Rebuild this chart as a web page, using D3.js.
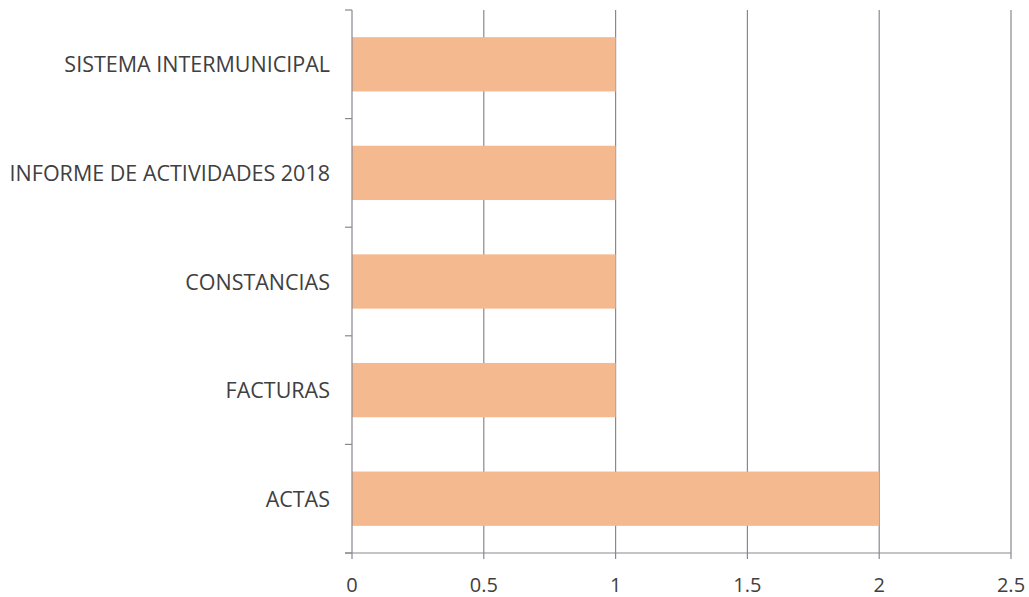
<!DOCTYPE html>
<html><head><meta charset="utf-8">
<script src="https://cdn.jsdelivr.net/npm/d3@7"></script>
<style>body{margin:0;background:#fff}</style>
</head><body>
<svg id="c" width="1029" height="597"></svg>
<script>
const categories = ["SISTEMA INTERMUNICIPAL","INFORME DE ACTIVIDADES 2018","CONSTANCIAS","FACTURAS","ACTAS"];
const values = [1,1,1,1,2];
const xTicks = [0,0.5,1,1.5,2,2.5];

(function(){
const svg = d3.select("#c");
const pL = 352, pR = 1011, pT = 10, pB = 553;
const x = d3.scaleLinear().domain([0,2.5]).range([pL,pR]);
const y = d3.scaleBand().domain(categories).range([pT,pB]).paddingInner(0.5).paddingOuter(0.25);
const font = "'Open Sans', sans-serif";

svg.append("g").selectAll("line").data(xTicks.slice(1)).join("line")
  .attr("x1",d=>x(d)).attr("x2",d=>x(d)).attr("y1",pT).attr("y2",pB+6)
  .attr("stroke","#8a8790").attr("stroke-width",1.2);
svg.append("g").selectAll("rect").data(categories).join("rect")
  .attr("x",x(0)).attr("y",d=>y(d)).attr("width",(d,i)=>x(values[i])-x(0)).attr("height",y.bandwidth())
  .attr("fill","#f4b98f");
const step = (pB-pT)/categories.length;
const yt = d3.range(categories.length+1).map(i=>pT+i*step);
svg.append("line").attr("x1",pL).attr("x2",pL).attr("y1",pT).attr("y2",pB+6).attr("stroke","#8a8790").attr("stroke-width",1.2);
svg.append("g").selectAll("line").data(yt).join("line")
  .attr("x1",pL-7).attr("x2",pL).attr("y1",d=>d).attr("y2",d=>d).attr("stroke","#8a8790").attr("stroke-width",1.2);
svg.append("line").attr("x1",pL-7).attr("x2",pR).attr("y1",pB).attr("y2",pB).attr("stroke","#8a8790").attr("stroke-width",1.2);
svg.append("g").selectAll("text").data(xTicks).join("text")
  .attr("x",d=>x(d)).attr("y",592).attr("text-anchor","middle")
  .attr("font-family",font).attr("font-size",20).attr("fill","#404040").text(d=>d);
svg.append("g").selectAll("text").data(categories).join("text")
  .attr("x",330).attr("y",d=>y(d)+y.bandwidth()/2+8).attr("text-anchor","end")
  .attr("font-family",font).attr("font-size",21.5).attr("fill","#404040").text(d=>d);
})();
</script>
</body></html>
